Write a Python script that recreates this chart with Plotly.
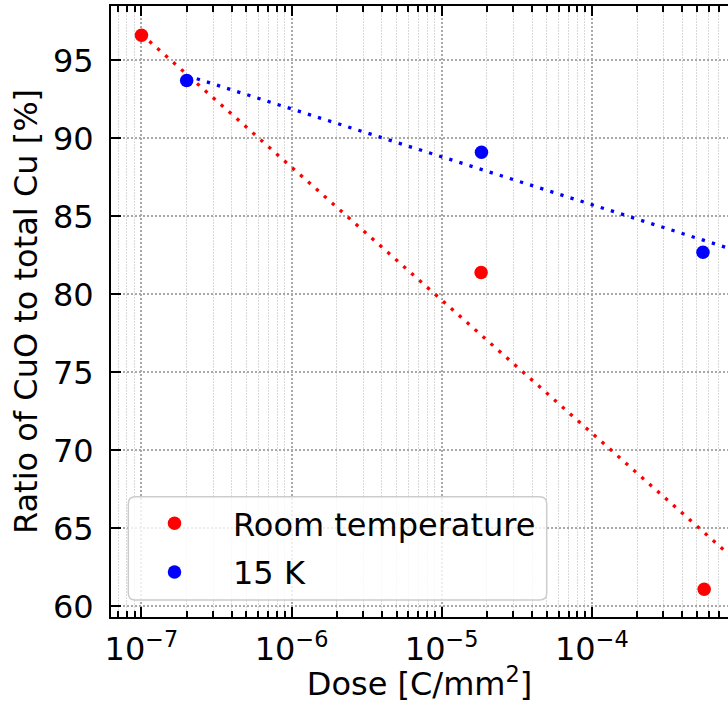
import numpy as np
import plotly.graph_objects as go

# ---- data ----
series_names = ["Room temperature", "15 K"]
dose_rt = [1.0e-7, 1.83e-5, 5.6e-4]
ratio_rt = [96.6, 81.4, 61.1]
dose_15k = [2.0e-7, 1.84e-5, 5.5e-4]
ratio_15k = [93.7, 89.1, 82.7]
# dotted trend lines: ratio = a + b * (log10(dose) + 7)
fit_rt = (96.67, -8.52)
fit_15k = (94.95, -3.067)
fit_x_end = 1.0e-3

x_tick_vals = [1e-7, 1e-6, 1e-5, 1e-4]
x_tick_text = ["10<sup>\u22127</sup>", "10<sup>\u22126</sup>", "10<sup>\u22125</sup>", "10<sup>\u22124</sup>"]
y_tick_vals = [60, 65, 70, 75, 80, 85, 90, 95]

RED = "#ff0000"
BLUE = "#0000ff"
FONT = "DejaVu Sans"
FS = 32

minor_vals = [m * 10.0 ** e for e in range(-9, -2) for m in range(2, 10)]


def fit_line(x0, params):
    a, b = params
    xs = [x0, fit_x_end]
    ys = [a + b * (np.log10(x) + 7) for x in xs]
    return xs, ys


fig = go.Figure()
for dose, ratio, fit, col in [(dose_rt, ratio_rt, fit_rt, RED), (dose_15k, ratio_15k, fit_15k, BLUE)]:
    fx, fy = fit_line(dose[0], fit)
    fig.add_trace(go.Scatter(x=fx, y=fy, mode="lines", showlegend=False, hoverinfo="skip",
                             line=dict(color=col, width=3.3, dash="3.3px,7.3px")))

fig.add_trace(go.Scatter(x=dose_rt, y=ratio_rt, mode="markers", name=series_names[0], legendgroup="a",
                         marker=dict(color=RED, size=13.5, line=dict(width=0))))
fig.add_trace(go.Scatter(x=dose_15k, y=ratio_15k, mode="markers", name=series_names[1], legendgroup="b",
                         marker=dict(color=BLUE, size=13.5, line=dict(width=0))))

W, H = 728, 703
L, R, T, B = 111, 0, 6, 86
pw, ph = W - L - R, H - T - B


def px2paper(x, y):
    return (x - L) / pw, (H - B - y) / ph


# rounded legend frame
bx0, by0, bx1, by1, rad = 128.3, 496.7, 546.7, 600.0, 7
def P(x, y):
    u, v = px2paper(x, y)
    return f"{u:.5f},{v:.5f}"
path = (f"M {P(bx0+rad, by0)} L {P(bx1-rad, by0)} Q {P(bx1, by0)} {P(bx1, by0+rad)} "
        f"L {P(bx1, by1-rad)} Q {P(bx1, by1)} {P(bx1-rad, by1)} L {P(bx0+rad, by1)} "
        f"Q {P(bx0, by1)} {P(bx0, by1-rad)} L {P(bx0, by0+rad)} Q {P(bx0, by0)} {P(bx0+rad, by0)} Z")
fig.add_shape(type="path", path=path, xref="paper", yref="paper", layer="above",
              fillcolor="rgba(255,255,255,0.8)", line=dict(color="#cccccc", width=1.5))

lx, ly = px2paper(116, 496)

fig.update_layout(
    width=W, height=H,
    margin=dict(l=L, r=R, t=T, b=B, autoexpand=False),
    paper_bgcolor="white", plot_bgcolor="white",
    font=dict(family=FONT, size=FS, color="black"),
    showlegend=True,
    legend=dict(x=lx, y=ly, xanchor="left", yanchor="top", bgcolor="rgba(0,0,0,0)",
                borderwidth=0, font=dict(family=FONT, size=FS, color="black"),
                itemwidth=107, tracegroupgap=4),
    xaxis=dict(
        type="log", range=[-7.203, -3.093],
        tickmode="array", tickvals=x_tick_vals, ticktext=x_tick_text,
        ticks="inside", ticklen=10, tickwidth=2, tickcolor="black",
        showline=True, linecolor="black", linewidth=2, mirror="allticks",
        showgrid=True, gridcolor="#a8a8a8", gridwidth=1.6, griddash="1.6px,2.4px",
        minor=dict(tickmode="array", tickvals=minor_vals, ticks="inside", ticklen=6,
                   tickwidth=1.5, tickcolor="black", showgrid=True,
                   gridcolor="#d9d9d9", gridwidth=1, griddash="1.5px,1.5px"),
        zeroline=False, automargin=False, ticklabelstandoff=3,
        title=dict(text="Dose [C/mm<sup>2</sup>]", font=dict(family=FONT, size=FS), standoff=6),
        tickfont=dict(family=FONT, size=FS),
    ),
    yaxis=dict(
        range=[59.32, 98.48],
        tickmode="array", tickvals=y_tick_vals,
        ticks="inside", ticklen=10, tickwidth=2, tickcolor="black",
        showline=True, linecolor="black", linewidth=2, mirror=False,
        showgrid=True, gridcolor="#a8a8a8", gridwidth=1.6, griddash="1.6px,2.4px",
        zeroline=False, automargin=False, ticklabelstandoff=9,
        title=dict(text="Ratio of CuO to total Cu [%]", font=dict(family=FONT, size=FS), standoff=6),
        tickfont=dict(family=FONT, size=FS),
    ),
)

fig.write_html("out.html")
